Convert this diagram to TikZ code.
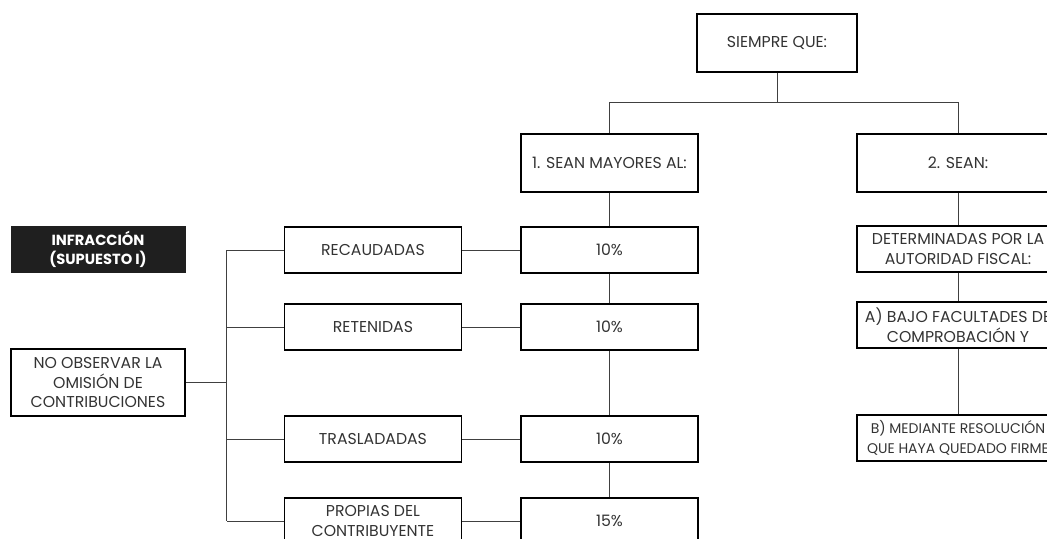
\documentclass[tikz,border=0pt]{standalone}
\usepackage{fontspec}
\setmainfont{Poppins}
\usepackage{tikz}
\usetikzlibrary{shapes,arrows}
\usetikzlibrary{positioning}
\tikzstyle{block} = [
	draw,
	line width=1pt,
	align=center,
	inner sep=0pt,
	text=black!80,
	font=\fontsize{11.8}{14.8}\selectfont,
	minimum width=132.75pt,
	minimum height=34.5pt
]
\tikzstyle{title} = [
	fill=black!88,
	text=white,
	align=center,
	inner sep=0pt,
	font=\bfseries\fontsize{11}{14.5}\selectfont,
	minimum width=131.25pt,
	minimum height=35.25pt
]
\tikzstyle{line} = [draw=black!75, line width=0.7pt]

\begin{document}
\begin{tikzpicture}[x=0.75pt, y=-0.75pt]
	\useasboundingbox (0,0) rectangle (1047,539);

	\node[block, name = SQ, minimum width = 120pt, minimum height = 43.5pt] at (777,43) {SIEMPRE QUE:};
	\node[block, name = MAY, minimum height = 43.5pt] at (609.5,163) {1. SEAN MAYORES AL:};
	\node[block, name = SEAN, right of = MAY, node distance = 261.4pt, minimum width = 151.5pt, minimum height = 43.5pt] {2. SEAN:};

	\node[block, name = P1, below of = MAY, node distance = 65.25pt] {10\%};
	\node[block, name = P2, below of = P1, node distance = 57.75pt] {10\%};
	\node[block, name = P3, below of = P2, node distance = 84pt] {10\%};
	\node[block, name = P4, below of = P3, node distance = 61.5pt] {15\%};

	\node[block, name = REC, left of = P1, node distance = 177.4pt] {RECAUDADAS};
	\node[block, name = RET, left of = P2, node distance = 177.4pt] {RETENIDAS};
	\node[block, name = TRA, left of = P3, node distance = 177.4pt] {TRASLADADAS};
	\node[block, name = PRO, left of = P4, node distance = 177.4pt] {PROPIAS DEL\\CONTRIBUYENTE};

	\node[block, name = OMI, minimum width = 130.5pt, minimum height = 50.25pt] at (98,382.5) {NO OBSERVAR LA\\OMISIÓN DE\\CONTRIBUCIONES};
	\node[title, name = INF, above of = OMI, node distance = 99.75pt] {INFRACCIÓN\\(SUPUESTO I)};

	\node[block, name = DET, below of = SEAN, node distance = 64.5pt, minimum width = 151.5pt] {DETERMINADAS POR LA\\AUTORIDAD FISCAL:};
	\node[block, name = BAJ, below of = DET, node distance = 57pt, minimum width = 151.5pt] {A) BAJO FACULTADES DE\\COMPROBACIÓN Y};
	\node[block, name = RES, below of = BAJ, node distance = 84.75pt, minimum width = 151.5pt, font = \fontsize{10.5}{14.8}\selectfont] {B) MEDIANTE RESOLUCIÓN\\QUE HAYA QUEDADO FIRME};

	\coordinate[below = 22.5pt of SQ.south] (SPLIT);
	\coordinate[left = 42.75pt of REC.west] (BUST);
	\coordinate[left = 42.75pt of PRO.west] (BUSB);

	\draw[line] (SQ.south) -- (SPLIT) -| (MAY.north);
	\draw[line] (SPLIT) -| (SEAN.north);
	\draw[line] (MAY.south) -- (P1.north);
	\draw[line] (P1.south) -- (P2.north);
	\draw[line] (P2.south) -- (P3.north);
	\draw[line] (P3.south) -- (P4.north);
	\draw[line] (REC.east) -- (P1.west);
	\draw[line] (RET.east) -- (P2.west);
	\draw[line] (TRA.east) -- (P3.west);
	\draw[line] (PRO.east) -- (P4.west);
	\draw[line] (BUST) -- (BUSB);
	\draw[line] (REC.west) -- (BUST);
	\draw[line] (RET.west) -- (RET.west -| BUST);
	\draw[line] (TRA.west) -- (TRA.west -| BUST);
	\draw[line] (PRO.west) -- (BUSB);
	\draw[line] (OMI.east) -- (OMI.east -| BUST);
	\draw[line] (SEAN.south) -- (DET.north);
	\draw[line] (DET.south) -- (BAJ.north);
	\draw[line] (BAJ.south) -- (RES.north);

\end{tikzpicture}
\end{document}
